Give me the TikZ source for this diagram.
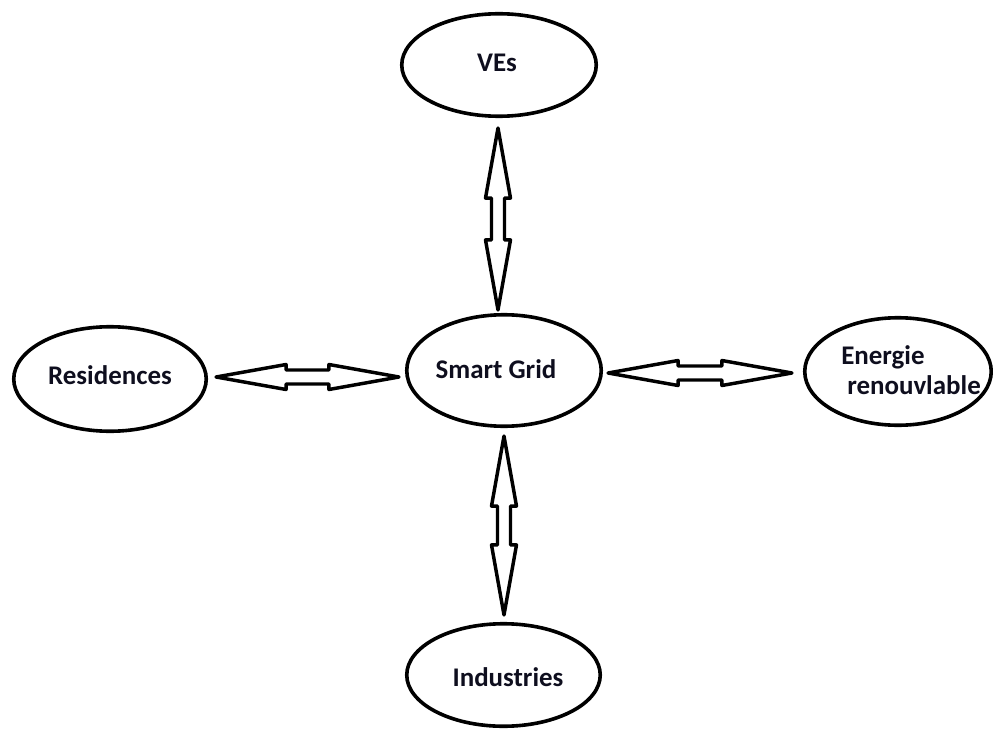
\documentclass[tikz,border=0pt]{standalone}
\usepackage{fontspec}
\setmainfont{Carlito}
\usetikzlibrary{shapes.geometric,calc}
\definecolor{txt}{RGB}{14,14,30}
\def\px{0.75pt}
\tikzset{
  bubble/.style={ellipse, draw=black, line width=2.7pt, inner sep=0pt},
  bubbletext/.style={inner sep=0pt, font=\fontsize{20.2}{23}\selectfont\bfseries, text=txt},
  arrowline/.style={draw=black, line width=2.6pt, line join=round, fill=white},
}
\newcommand\dblarrowV[2]{%
  \draw[arrowline] (#1) -- ($(#1)+(12.5,70)$) -- ($(#1)+(6.5,70)$) -- ($(#2)+(6.5,-70)$)
    -- ($(#2)+(12.5,-70)$) -- (#2) -- ($(#2)+(-12.5,-70)$) -- ($(#2)+(-6.5,-70)$)
    -- ($(#1)+(-6.5,70)$) -- ($(#1)+(-12.5,70)$) -- cycle;}
\newcommand\dblarrowH[2]{%
  \draw[arrowline] (#1) -- ($(#1)+(70,12.5)$) -- ($(#1)+(70,7)$) -- ($(#2)+(-70,7)$)
    -- ($(#2)+(-70,12.5)$) -- (#2) -- ($(#2)+(-70,-12.5)$) -- ($(#2)+(-70,-7)$)
    -- ($(#1)+(70,-7)$) -- ($(#1)+(70,-12.5)$) -- cycle;}
\begin{document}
\begin{tikzpicture}[x=0.75pt,y=-0.75pt]
\useasboundingbox (0,0) rectangle (993,731);
\node[bubble, minimum width=194.5*\px, minimum height=102.5*\px] (ves) at (499,65) {};
\node[bubble, minimum width=194.5*\px, minimum height=111.5*\px] (sg) at (504,370.5) {};
\node[bubble, minimum width=192.5*\px, minimum height=104.5*\px] (res) at (110,379) {};
\node[bubble, minimum width=186.5*\px, minimum height=107.5*\px] (en) at (898,371.5) {};
\node[bubble, minimum width=193.5*\px, minimum height=102.5*\px] (ind) at (503.5,675) {};
% texts
\node[bubbletext] (vest) at (497,63) {VEs};
\node[bubbletext] (sgt) at (496,369) {Smart Grid};
\node[bubbletext] (rest) at (110,375) {Residences};
\node[bubbletext, anchor=north west, align=left] (ent) at (841,345) {Energie\\\hspace{4.5pt}renouvlable};
\node[bubbletext] (indt) at (508,677) {Industries};
% connectors
\coordinate (a1s) at ($(ves.south)+(-1,10)$);
\coordinate (a1e) at ($(a1s |- sg.north)+(0,-3)$);
\coordinate (a2s) at ($(res.east)+(8,-2)$);
\coordinate (a2e) at ($(a2s -| sg.west)+(-6,0)$);
\coordinate (a3s) at ($(sg.east)+(5,2.5)$);
\coordinate (a3e) at ($(a3s -| en.west)+(-11,0)$);
\coordinate (a4s) at ($(sg.south)+(0,8)$);
\coordinate (a4e) at ($(a4s |- ind.north)+(0,-7)$);
\dblarrowV{a1s}{a1e}
\dblarrowH{a2s}{a2e}
\dblarrowH{a3s}{a3e}
\dblarrowV{a4s}{a4e}
\end{tikzpicture}
\end{document}
